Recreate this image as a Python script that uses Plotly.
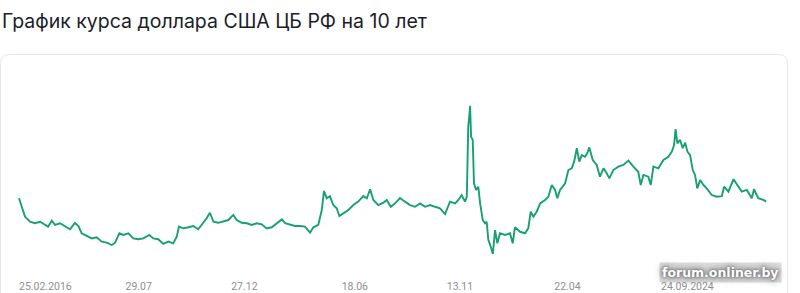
import pandas as pd
import plotly.graph_objects as go

# ---- data ----
dates = [
    "2016-02-25", "2016-03-09", "2016-03-25", "2016-04-19", "2016-05-13", "2016-06-07",
    "2016-07-01", "2016-07-16", "2016-08-03", "2016-08-19", "2016-09-12", "2016-10-07",
    "2016-10-31", "2016-11-24", "2016-12-11", "2016-12-27", "2017-01-21", "2017-02-14",
    "2017-03-10", "2017-04-04", "2017-04-28", "2017-05-23", "2017-06-08", "2017-06-29",
    "2017-07-18", "2017-08-12", "2017-09-05", "2017-09-29", "2017-10-24", "2017-11-22",
    "2017-12-12", "2018-01-05", "2018-01-29", "2018-02-23", "2018-03-19", "2018-04-05",
    "2018-04-16", "2018-05-07", "2018-06-01", "2018-06-25", "2018-07-19", "2018-08-13",
    "2018-08-29", "2018-09-14", "2018-10-01", "2018-10-25", "2018-11-18", "2018-12-13",
    "2019-01-06", "2019-01-23", "2019-02-16", "2019-03-13", "2019-04-06", "2019-04-30",
    "2019-05-25", "2019-06-18", "2019-07-13", "2019-08-06", "2019-08-31", "2019-09-16",
    "2019-10-10", "2019-11-03", "2019-11-28", "2019-12-22", "2020-01-16", "2020-02-01",
    "2020-02-25", "2020-03-13", "2020-03-24", "2020-04-06", "2020-04-22", "2020-05-08",
    "2020-05-25", "2020-06-07", "2020-06-26", "2020-07-21", "2020-08-14", "2020-09-07",
    "2020-10-02", "2020-10-19", "2020-11-04", "2020-11-20", "2020-12-14", "2021-01-08",
    "2021-01-24", "2021-02-13", "2021-03-06", "2021-03-30", "2021-04-23", "2021-05-18",
    "2021-06-11", "2021-07-06", "2021-07-30", "2021-08-24", "2021-09-17", "2021-10-11",
    "2021-11-05", "2021-11-29", "2021-12-24", "2022-01-09", "2022-01-25", "2022-02-10",
    "2022-02-19", "2022-02-26", "2022-03-03", "2022-03-07", "2022-03-12", "2022-03-20",
    "2022-03-26", "2022-04-05", "2022-04-16", "2022-04-25", "2022-05-08", "2022-05-19",
    "2022-05-27", "2022-06-04", "2022-06-16", "2022-06-26", "2022-07-07", "2022-07-18",
    "2022-07-31", "2022-08-25", "2022-09-18", "2022-10-01", "2022-10-12", "2022-11-06",
    "2022-11-30", "2022-12-16", "2022-12-28", "2023-01-10", "2023-01-26", "2023-02-12",
    "2023-03-08", "2023-03-24", "2023-04-10", "2023-04-26", "2023-05-07", "2023-05-20",
    "2023-06-14", "2023-06-30", "2023-07-16", "2023-07-28", "2023-08-10", "2023-08-22",
    "2023-09-03", "2023-09-19", "2023-09-30", "2023-10-10", "2023-10-27", "2023-11-15",
    "2023-12-01", "2023-12-18", "2024-01-03", "2024-01-16", "2024-02-04", "2024-02-29",
    "2024-03-24", "2024-04-18", "2024-05-12", "2024-06-05", "2024-06-17", "2024-06-30",
    "2024-07-24", "2024-08-05", "2024-08-18", "2024-09-11", "2024-10-06", "2024-10-30",
    "2024-11-16", "2024-11-27", "2024-12-04", "2024-12-13", "2024-12-26", "2025-01-08",
    "2025-01-20", "2025-01-31", "2025-02-13", "2025-02-26", "2025-03-09", "2025-03-20",
    "2025-04-03", "2025-04-19", "2025-05-05", "2025-05-30", "2025-06-23", "2025-07-18",
    "2025-07-29", "2025-08-19", "2025-09-13", "2025-10-02", "2025-10-23", "2025-11-17",
    "2025-12-11", "2025-12-22", "2026-01-12", "2026-02-06", "2026-02-19",
]

usd_rub = [
    77.1, 73.1, 68.5, 66.1, 65.4, 66.1,
    64.6, 63.8, 66.6, 64.6, 65.4, 63.8,
    62.6, 65.6, 64.1, 60.7, 59.4, 58.3,
    58.8, 56.8, 56.3, 55.2, 56.3, 60.7,
    59.9, 60.7, 58.3, 57.9, 58.3, 59.9,
    58.3, 57.9, 55.7, 56.8, 56.0, 59.1,
    63.8, 63.0, 63.5, 64.1, 62.6, 65.4,
    67.7, 70.3, 66.1, 65.6, 66.1, 66.9,
    69.3, 66.9, 65.6, 65.4, 64.6, 65.4,
    64.9, 63.0, 63.5, 65.4, 67.2, 65.4,
    64.6, 64.1, 64.1, 63.8, 61.0, 63.5,
    64.6, 71.6, 80.5, 77.1, 78.1, 73.9,
    72.4, 68.8, 70.0, 71.6, 73.9, 75.5,
    78.1, 77.1, 81.3, 76.3, 73.9, 75.0,
    76.3, 73.1, 74.7, 77.2, 75.5, 73.9,
    73.1, 74.7, 73.1, 73.9, 73.1, 72.4,
    69.7, 75.5, 74.7, 76.3, 78.6, 75.5,
    77.8, 110.6, 115.3, 120.3, 105.9, 104.4,
    84.1, 81.0, 82.5, 74.7, 66.9, 65.4,
    66.1, 57.6, 54.4, 51.0, 62.2, 56.0,
    60.7, 59.9, 60.7, 56.0, 63.5, 61.4,
    60.7, 63.0, 70.8, 68.5, 70.8, 74.7,
    76.3, 77.8, 83.3, 81.0, 77.1, 81.0,
    84.1, 90.3, 91.1, 94.2, 100.5, 94.2,
    97.3, 96.5, 98.1, 100.9, 95.0, 92.7,
    87.2, 91.1, 88.8, 86.4, 90.3, 91.9,
    92.7, 94.7, 91.9, 89.5, 83.3, 88.0,
    87.2, 83.3, 91.9, 91.1, 95.0, 96.5,
    98.9, 102.0, 109.4, 102.8, 104.4, 100.5,
    103.1, 98.9, 97.3, 90.3, 88.0, 81.7,
    85.6, 83.3, 81.7, 78.6, 77.8, 78.1,
    82.5, 80.2, 86.0, 83.3, 80.2, 81.0,
    77.1, 81.3, 77.1, 76.3, 75.5,
]

tick_dates = ["2016-02-25", "2017-07-29", "2018-12-27", "2020-06-18",
              "2021-11-13", "2023-04-22", "2024-09-24"]
tick_labels = ["25.02.2016", "29.07", "27.12", "18.06", "13.11", "22.04", "24.09.2024"]

title_text = "График курса доллара США ЦБ РФ на 10 лет"
watermark = "forum.onliner.by"

# ---- layout geometry ----
W, H = 800, 293
start = pd.Timestamp(tick_dates[0])
px_per_day = (661 - 19) / (pd.Timestamp(tick_dates[-1]) - start).days
x0 = start - pd.Timedelta(days=19 / px_per_day)
x1 = x0 + pd.Timedelta(days=W / px_per_day)

top_px, bot_px = 60, 262
val_per_px = 0.468
def v_at(py):
    return 51 + (254 - py) * val_per_px

fig = go.Figure()
fig.add_trace(go.Scatter(
    x=pd.to_datetime(dates), y=usd_rub, mode="lines",
    line=dict(color="#17a070", width=1.9),
    hoverinfo="skip", showlegend=False,
))

# rounded card outline (paper coords, margins are zero)
def px(xp):
    return xp / W
def py(yp):
    return 1 - yp / H
L, R, T, B, r = 0.5, 787.5, 54.5, 320, 9
path = (f"M {px(L)},{py(B)} L {px(L)},{py(T + r)} "
        f"Q {px(L)},{py(T)} {px(L + r)},{py(T)} "
        f"L {px(R - r)},{py(T)} Q {px(R)},{py(T)} {px(R)},{py(T + r)} "
        f"L {px(R)},{py(B)}")

fig.update_layout(
    width=W, height=H,
    margin=dict(l=0, r=0, t=0, b=0),
    paper_bgcolor="white", plot_bgcolor="rgba(0,0,0,0)",
    xaxis=dict(
        type="date", range=[x0, x1], domain=[0, 1],
        showgrid=False, zeroline=False, showline=False, ticks="",
        tickmode="array", tickvals=pd.to_datetime(tick_dates), ticktext=tick_labels,
        ticklabelposition="outside right", ticklabelstandoff=16,
        tickfont=dict(family="Roboto", size=10.5, color="#8e8e93"),
        fixedrange=True,
    ),
    yaxis=dict(
        range=[v_at(bot_px), v_at(top_px)], domain=[py(bot_px), py(top_px)],
        visible=False, fixedrange=True,
    ),
    shapes=[dict(type="path", path=path, xref="paper", yref="paper",
                 line=dict(color="#e6e6ef", width=1), layer="below")],
    annotations=[
        dict(text=title_text, xref="paper", yref="paper", x=0, y=py(7),
             xanchor="left", yanchor="top", showarrow=False,
             font=dict(family="Inter", size=19.5, color="#1b1d2b")),
        dict(text=f"<b>{watermark}</b>", xref="paper", yref="paper",
             x=px(782), y=py(272), xanchor="right", yanchor="middle", showarrow=False,
             bgcolor="rgba(160,160,160,0.35)", borderpad=2,
             font=dict(family="DejaVu Sans", size=12.5, color="white",
                       shadow="0px 0px 2px #666, 0px 0px 4px #777, 0px 0px 7px #888, 0px 0px 10px #999")),
    ],
)

fig.write_html("out.html")
